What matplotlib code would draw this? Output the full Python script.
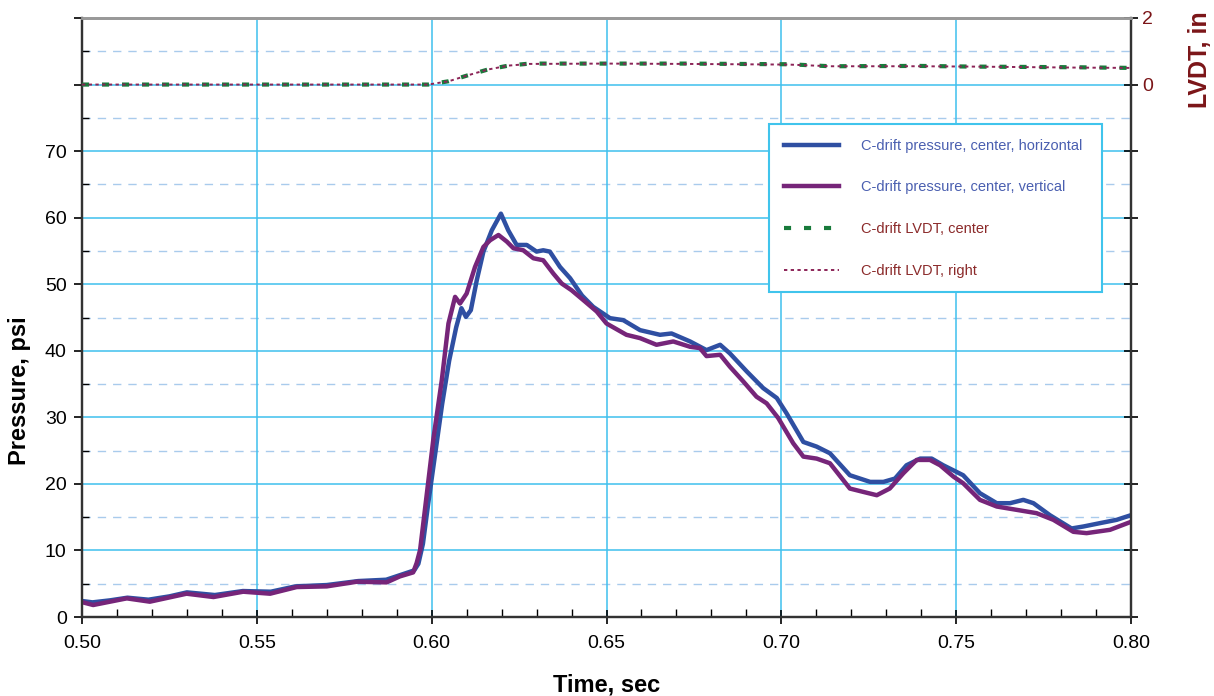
import matplotlib

matplotlib.use("Agg")
import matplotlib.pyplot as plt
from matplotlib.ticker import MultipleLocator, FixedLocator, FuncFormatter, NullLocator


# C-drift pressure, center, horizontal (blue)
t_horiz = [0.500, 0.503, 0.508, 0.513, 0.519, 0.525, 0.530, 0.538, 0.546, 0.554,
           0.561, 0.570, 0.579, 0.587, 0.591, 0.5950, 0.5962, 0.5975, 0.5990, 0.6010,
           0.6030, 0.6050, 0.6070, 0.6085, 0.6098, 0.6112, 0.6129, 0.6148, 0.6172, 0.6198,
           0.6219, 0.6243, 0.6272, 0.6300, 0.6319, 0.6338, 0.6367, 0.6396, 0.6430, 0.6462,
           0.6510, 0.6548, 0.6596, 0.6653, 0.6686, 0.6739, 0.6786, 0.6825, 0.6853, 0.6901,
           0.6948, 0.6987, 0.7015, 0.7063, 0.7101, 0.7139, 0.7196, 0.7254, 0.7292, 0.7325,
           0.7358, 0.7397, 0.7430, 0.7463, 0.7501, 0.7520, 0.7568, 0.7616, 0.7654, 0.7692,
           0.7721, 0.7768, 0.7830, 0.7864, 0.7911, 0.7959, 0.8000]
p_horiz = [2.4, 2.2, 2.5, 2.9, 2.6, 3.1, 3.7, 3.3, 3.9, 3.8,
           4.6, 4.8, 5.4, 5.6, 6.3, 7.0, 8.0, 11.0, 17.0, 24.5,
           32.0, 38.5, 43.5, 46.4, 45.1, 46.1, 50.6, 54.9, 58.1, 60.6,
           58.1, 55.9, 55.9, 54.9, 55.1, 54.9, 52.6, 50.9, 48.3, 46.6,
           44.9, 44.6, 43.1, 42.4, 42.6, 41.4, 40.1, 40.9, 39.6, 36.9,
           34.4, 32.9, 30.6, 26.3, 25.6, 24.6, 21.3, 20.3, 20.3, 20.8,
           22.8, 23.8, 23.8, 22.8, 21.8, 21.3, 18.6, 17.1, 17.1, 17.6,
           17.1, 15.3, 13.3, 13.6, 14.1, 14.6, 15.3]

# C-drift pressure, center, vertical (purple)
t_vert = [0.4995, 0.5032, 0.5080, 0.5128, 0.5194, 0.5299, 0.5376, 0.5461, 0.5538, 0.5614,
          0.5700, 0.5786, 0.5871, 0.5909, 0.5947, 0.5957, 0.5967, 0.5985, 0.6005, 0.6029,
          0.6048, 0.6067, 0.6081, 0.6100, 0.6124, 0.6148, 0.6167, 0.6191, 0.6215, 0.6234,
          0.6262, 0.6291, 0.6319, 0.6348, 0.6372, 0.6400, 0.6434, 0.6472, 0.6500, 0.6557,
          0.6596, 0.6643, 0.6691, 0.6739, 0.6767, 0.6786, 0.6825, 0.6853, 0.6891, 0.6929,
          0.6958, 0.6991, 0.7034, 0.7063, 0.7101, 0.7139, 0.7196, 0.7234, 0.7273, 0.7310,
          0.7349, 0.7387, 0.7425, 0.7454, 0.7492, 0.7520, 0.7568, 0.7616, 0.7673, 0.7730,
          0.7778, 0.7835, 0.7873, 0.7940, 0.8000]
p_vert = [2.3, 1.8, 2.3, 2.8, 2.3, 3.5, 3.0, 3.8, 3.5, 4.5,
          4.6, 5.3, 5.2, 6.1, 6.7, 8.1, 10.1, 18.0, 26.8, 35.6,
          44.1, 48.1, 47.1, 48.6, 52.6, 55.6, 56.6, 57.4, 56.4, 55.4,
          55.1, 53.9, 53.6, 51.6, 50.1, 49.1, 47.6, 45.9, 44.1, 42.4,
          41.9, 40.9, 41.4, 40.6, 40.4, 39.2, 39.4, 37.6, 35.4, 33.1,
          32.1, 29.9, 26.1, 24.1, 23.8, 23.1, 19.3, 18.8, 18.3, 19.3,
          21.6, 23.6, 23.6, 22.8, 21.1, 20.1, 17.6, 16.6, 16.1, 15.6,
          14.6, 12.8, 12.6, 13.1, 14.3]

# LVDT displacements (in)
t_lvdt = [0.500, 0.550, 0.599, 0.6049, 0.6101, 0.6160, 0.6220, 0.6280, 0.6500, 0.6725,
          0.7022, 0.7140, 0.7394, 0.7543, 0.7840, 0.8000]
lvdt_center = [0.0, 0.0, 0.0, 0.10, 0.27, 0.45, 0.57, 0.63, 0.63, 0.63,
               0.61, 0.55, 0.56, 0.54, 0.52, 0.50]
lvdt_right = [0.0, 0.0, 0.0, 0.10, 0.27, 0.45, 0.57, 0.62, 0.63, 0.62,
              0.60, 0.55, 0.55, 0.54, 0.51, 0.50]

BLUE = "#2f4fa2"
PURPLE = "#762579"
GREEN = "#187a3b"
MAROON = "#8c2457"
LABEL_RED = "#7b1518"
GRID = "#3fc0ee"
GRID_MINOR = "#a9cbec"

plt.rcParams["font.family"] = ["Liberation Sans", "DejaVu Sans"]

fig = plt.figure(figsize=(12.14, 6.96), dpi=100)
ax = fig.add_axes([82 / 1214, 79 / 696, 1049 / 1214, 599 / 696])
ax2 = ax.twinx()

ax.set_xlim(0.5, 0.8)
ax.set_ylim(0, 90)
ax2.set_ylim(-16, 2)

# grid
for v in range(10, 90, 10):
    ax.axhline(v, color=GRID, lw=1.1, zorder=0.5)
for v in range(5, 90, 10):
    ax.axhline(v, color=GRID_MINOR, lw=1.0, ls=(0, (6, 5)), zorder=0.5)
for v in [0.55, 0.60, 0.65, 0.70, 0.75]:
    ax.axvline(v, color=GRID, lw=1.1, zorder=0.5)

l1, = ax.plot(t_horiz, p_horiz, color=BLUE, lw=3.2, solid_joinstyle="round", zorder=3)
l2, = ax.plot(t_vert, p_vert, color=PURPLE, lw=3.2, solid_joinstyle="round", zorder=4)
l3, = ax2.plot(t_lvdt, lvdt_center, color=GREEN, lw=3.0, ls=(0, (1.7, 3.1)), zorder=3)
l4, = ax2.plot(t_lvdt, lvdt_right, color=MAROON, lw=1.4, ls=(0, (1.7, 1.75)), zorder=4)

ax.xaxis.set_major_locator(MultipleLocator(0.05))
ax.xaxis.set_minor_locator(MultipleLocator(0.01))
ax.xaxis.set_major_formatter(FuncFormatter(lambda v, p: f"{v:.2f}"))
ax.yaxis.set_major_locator(MultipleLocator(10))
ax.yaxis.set_minor_locator(MultipleLocator(5))
ax.yaxis.set_major_formatter(FuncFormatter(lambda v, p: f"{v:.0f}" if v <= 70 else ""))
ax.yaxis.set_ticks_position("left")
ax.tick_params(axis="x", which="major", direction="inout", length=10, width=1.2, labelsize=14, pad=8)
ax.tick_params(axis="x", which="minor", direction="in", length=6, width=1.0)
ax.tick_params(axis="y", which="major", direction="out", length=6, width=1.2, labelsize=14, pad=5)
ax.tick_params(axis="y", which="minor", direction="in", length=5, width=1.0)

ax2.yaxis.set_major_locator(FixedLocator(list(range(-16, 3, 2))))
ax2.yaxis.set_minor_locator(NullLocator())
ax2.yaxis.set_major_formatter(FuncFormatter(lambda v, p: f"{v:.0f}" if v >= 0 else ""))
ax2.tick_params(axis="y", direction="inout", length=10, width=1.2, labelsize=14,
                labelcolor=LABEL_RED, pad=3)

for a in (ax, ax2):
    for side in ("left", "right", "bottom"):
        a.spines[side].set_color("#333333")
        a.spines[side].set_linewidth(1.6)
    a.spines["top"].set_color("#999999")
    a.spines["top"].set_linewidth(2.0)

ax.set_xlabel("Time, sec", fontsize=17, fontweight="bold")
ax.xaxis.set_label_coords(0.5, -0.095)
ax.set_ylabel("Pressure, psi", fontsize=17, fontweight="bold")
ax.yaxis.set_label_coords(-0.049, 0.378)
ax2.set_ylabel("LVDT, in", fontsize=18, fontweight="bold", color=LABEL_RED)
ax2.yaxis.set_label_coords(1.054, 0.93)

leg = ax2.legend(
    [l1, l2, l3, l4],
    ["C-drift pressure, center, horizontal", "C-drift pressure, center, vertical",
     "C-drift LVDT, center", "C-drift LVDT, right"],
    loc="upper left", bbox_to_anchor=(0.655, 0.541, 0.317, 0.282), mode="expand",
    borderaxespad=0, prop={"family": "Liberation Sans", "size": 10.5}, frameon=True,
    fancybox=False, handlelength=3.8, handletextpad=1.5, labelspacing=1.9, borderpad=1.0,
)
leg.get_frame().set_edgecolor("#40c4ec")
leg.get_frame().set_linewidth(1.5)
leg.get_frame().set_facecolor("white")
leg.get_frame().set_alpha(1.0)
for txt, col in zip(leg.get_texts(), ["#4a5fb0", "#4a5fb0", "#8b2a2a", "#8b2a2a"]):
    txt.set_color(col)

fig.savefig("out.png", dpi=100)
